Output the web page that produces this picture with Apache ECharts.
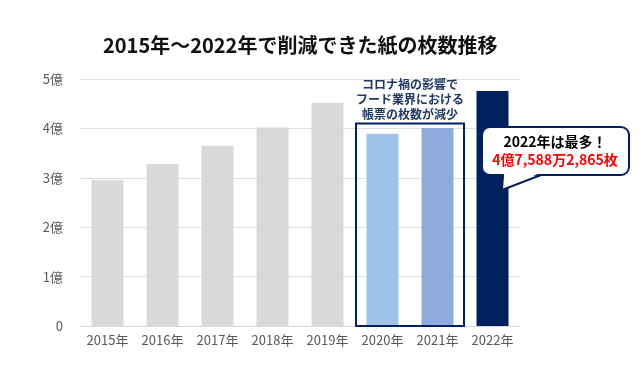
<!DOCTYPE html>
<html>
<head>
<meta charset="utf-8">
<script src="https://cdn.jsdelivr.net/npm/echarts@6/dist/echarts.min.js"></script>
<style>
html,body{margin:0;padding:0;background:#fff;}
#c{width:640px;height:372px;}
</style>
</head>
<body>
<div id="c"></div>
<script>
const title = '2015年～2022年で削減できた紙の枚数推移';
const categories = ['2015年','2016年','2017年','2018年','2019年','2020年','2021年','2022年'];
const values = [2.95, 3.28, 3.65, 4.02, 4.52, 3.89, 4.01, 4.75882865];
const barColors = ['#d9d9d9','#d9d9d9','#d9d9d9','#d9d9d9','#d9d9d9','#9dc3e6','#8faadc','#002060'];
const yTicks = ['0','1億','2億','3億','4億','5億'];
const noteLines = ['コロナ禍の影響で','フード業界における','帳票の枚数が減少'];
const calloutLines = ['2022年は最多！','4億7,588万2,865枚'];

const FONT = '"Noto Sans CJK JP", "Noto Sans", sans-serif';
const chart = echarts.init(document.getElementById('c'));
chart.setOption({
  animation: false,
  backgroundColor: '#fff',
  title: {
    text: title, left: 98, top: 30,
    textStyle: {fontFamily: FONT, fontSize: 20, fontWeight: 'bold', color: '#111'}
  },
  grid: {left: 80, right: 120, top: 79, bottom: 46},
  xAxis: {
    type: 'category', data: categories,
    axisTick: {show: false},
    axisLine: {lineStyle: {color: '#d9d9d9', width: 1}},
    axisLabel: {fontFamily: FONT, fontSize: 13, color: '#595959', margin: 8}
  },
  yAxis: {
    type: 'value', min: 0, max: 5, interval: 1,
    axisLabel: {fontFamily: FONT, fontSize: 13, color: '#595959', margin: 17,
      formatter: v => yTicks[Math.round(v)]},
    splitLine: {lineStyle: {color: '#e0e0e0', width: 1}},
    axisLine: {show: false}, axisTick: {show: false}
  },
  series: [{
    type: 'bar', barWidth: 32,
    data: values.map((v, i) => ({value: v, itemStyle: {color: barColors[i]}}))
  }]
});

// annotations
const c20 = chart.convertToPixel({xAxisIndex: 0}, categories[5]);
const c21 = chart.convertToPixel({xAxisIndex: 0}, categories[6]);
const cw = c21 - c20;
const yTop = chart.convertToPixel({yAxisIndex: 0}, 4.1);
const y0 = chart.convertToPixel({yAxisIndex: 0}, 0);
const bx = c20 - cw / 2 + 1, bw = (c21 + cw / 2 - 1) - bx;
const boxCx = bx + bw / 2;

const g = [
  {type: 'rect', shape: {x: bx, y: yTop, width: bw, height: y0 - yTop},
   style: {fill: 'none', stroke: '#002060', lineWidth: 2}, z: 10},
  {type: 'text', x: boxCx, y: yTop - 2, z: 10,
   style: {text: noteLines.join('\n'), fill: '#1f3864', font: 'bold 12px ' + FONT,
     align: 'center', verticalAlign: 'bottom', lineHeight: 15}},
  {type: 'rect', z: 10, shape: {x: 482, y: 127, width: 147, height: 48, r: 8},
   style: {fill: '#fff', stroke: '#002060', lineWidth: 2}},
  {type: 'polygon', z: 11, shape: {points: [[504, 173], [540, 173], [502, 190]]},
   style: {fill: '#fff', stroke: null}},
  {type: 'polyline', z: 12, shape: {points: [[503, 175], [502, 190], [541, 175]]},
   style: {fill: null, stroke: '#002060', lineWidth: 2}},
  {type: 'text', x: 555, y: 142, z: 13,
   style: {text: calloutLines[0], fill: '#000', font: 'bold 14px ' + FONT, align: 'center', verticalAlign: 'middle'}},
  {type: 'text', x: 555, y: 160, z: 13,
   style: {text: calloutLines[1], fill: '#ff0000', font: 'bold 14px ' + FONT, align: 'center', verticalAlign: 'middle'}}
];
chart.setOption({graphic: g});
</script>
</body>
</html>
